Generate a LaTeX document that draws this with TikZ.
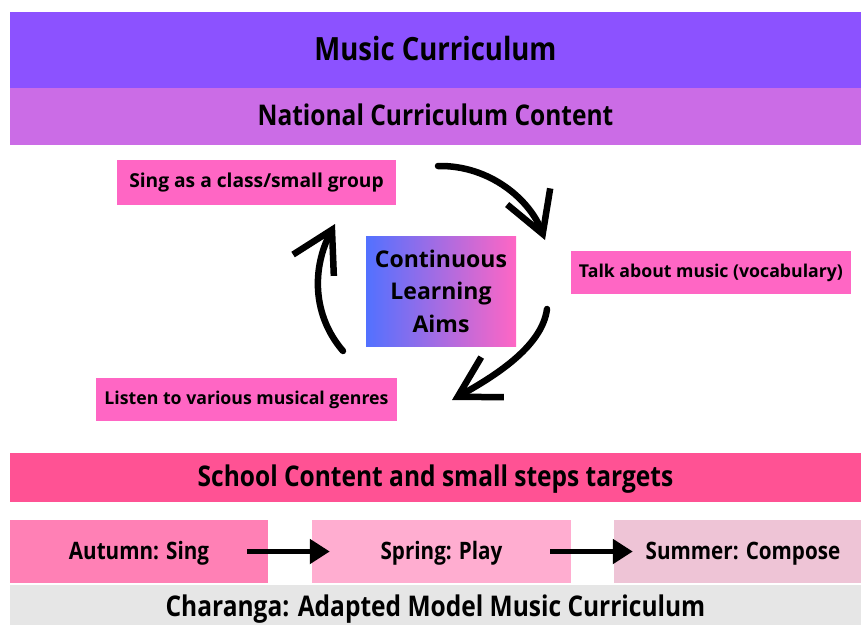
\documentclass[tikz,border=0pt]{standalone}
\usepackage{fontspec}
\setmainfont{Open Sans}
\newfontfamily\headfont[FakeStretch=0.86]{Open Sans}
\usetikzlibrary{arrows.meta}
\definecolor{topviolet}{HTML}{8C52FF}
\definecolor{natlilac}{HTML}{CB6CE6}
\definecolor{aimpink}{HTML}{FF66C4}
\definecolor{aimblue}{HTML}{5271FF}
\definecolor{schoolpink}{HTML}{FF5294}
\definecolor{autumnpink}{HTML}{FF80B5}
\definecolor{springpink}{HTML}{FFADD0}
\definecolor{summerpink}{HTML}{EEC4D6}
\definecolor{charangagrey}{HTML}{E6E6E6}
\tikzset{
  band/.style={minimum width=851pt, inner sep=0pt, text height=20pt, text depth=2pt,
    font=\headfont\bfseries\fontsize{28.5}{30}\selectfont},
  aimbox/.style={fill=aimpink, inner sep=0pt, font=\bfseries\fontsize{17.7}{20}\selectfont},
  termbox/.style={minimum height=63pt, inner sep=0pt, text height=17pt, text depth=1.5pt,
    font=\headfont\bfseries\fontsize{24}{26}\selectfont},
  loop arrow/.style={line width=6.5pt, line cap=round, line join=round,
    -{Straight Barb[length=40pt, width=46pt]}},
  term arrow/.style={line width=5pt, -{Triangle[length=20pt, width=24pt]}},
}
\begin{document}
\begin{tikzpicture}[x=1pt, y=-1pt]
  \useasboundingbox[fill=white] (0,0) rectangle (861,624);
  % bands
  \node[band, fill=topviolet, minimum height=76pt, text height=22.5pt,
    font=\headfont\bfseries\fontsize{32}{34}\selectfont] (music) at (435.5,50) {Music Curriculum};
  \node[band, fill=natlilac, minimum height=57pt] (national) at (435.5,116) {National Curriculum Content};
  % learning loop
  \node[aimbox, minimum width=279pt, minimum height=45pt, font=\bfseries\fontsize{19.2}{22}\selectfont] (sing) at (256.5,182.5) {Sing as a class/small group};
  \node[aimbox, minimum width=280pt, minimum height=43pt] (talk) at (711,272.5) {Talk about music (vocabulary)};
  \node[aimbox, minimum width=301pt, minimum height=43pt] (listen) at (246.5,399.5) {Listen to various musical genres};
  \node[left color=aimblue, right color=aimpink, minimum width=150pt, minimum height=110pt,
    inner sep=0pt, align=center, font=\bfseries\fontsize{23}{32.5}\selectfont] (aims) at (441,291)
    {Continuous\\Learning\\Aims};
  \coordinate (loopA) at (438,166);
  \coordinate (loopB) at (545,240);
  \coordinate (loopC) at (547,309);
  \coordinate (loopD) at (452,400);
  \coordinate (loopE) at (343,351);
  \coordinate (loopF) at (335,224);
  \draw[loop arrow] (loopA) .. controls (490,165) and (530,200) .. (loopB);
  \draw[loop arrow] (loopC) .. controls (542,348) and (491,378) .. (loopD);
  \draw[loop arrow] (loopE) .. controls (312,315) and (312,268) .. (loopF);
  % school content
  \node[band, fill=schoolpink, minimum height=49pt] (school) at (435.5,477.5) {School Content and small steps targets};
  \node[termbox, fill=autumnpink, minimum width=258pt] (autumn) at (139,551.5) {Autumn: Sing};
  \node[termbox, fill=springpink, minimum width=259pt] (spring) at (441.5,551.5) {Spring: Play};
  \node[termbox, fill=summerpink, minimum width=247pt] (summer) at (737.5,551.5) {\hspace*{11pt}Summer: Compose};
  \draw[term arrow] ([xshift=-21pt]autumn.east) -- ([xshift=18pt]spring.west);
  \draw[term arrow] ([xshift=-21pt]spring.east) -- ([xshift=19pt]summer.west);
  \node[band, fill=charangagrey, minimum height=45pt] (charanga) at (435.5,607.5) {Charanga: Adapted Model Music Curriculum};
\end{tikzpicture}
\end{document}
